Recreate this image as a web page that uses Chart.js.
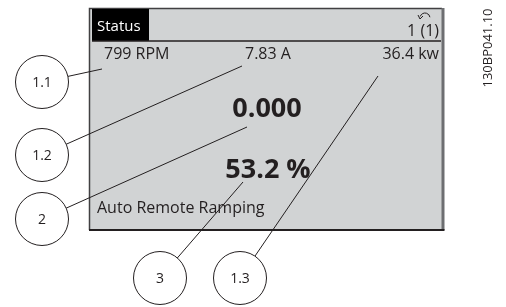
<!DOCTYPE html>
<html lang="en">
<head>
<meta charset="UTF-8">
<title>Status display</title>
<script src="https://cdn.jsdelivr.net/npm/chart.js@4.4.0/dist/chart.umd.min.js"></script>
<style>
    html, body { margin: 0; padding: 0; background: #fff; }
    #wrap { width: 506px; height: 307px; }
</style>
</head>
<body>
<div id="wrap"><canvas id="panel"></canvas></div>
<script>

    // callout bubbles and where their leader lines meet the display
    const calloutLabels = ['1.1', '1.2', '2', '3', '1.3'];
    const calloutX = [42, 42, 42, 160, 240];
    const calloutY = [82, 155, 219, 278, 278];
    const leaderX = [102, 242, 247, 243, 378];
    const leaderY = [69, 66, 127, 182, 76];

    // texts shown on the display
    const headerTitle = 'Status';
    const headerPage = '1 (1)';
    const readouts = ['799 RPM', '7.83 A', '36.4 kw'];
    const mainValue = '0.000';
    const secondValue = '53.2 %';
    const statusLine = 'Auto Remote Ramping';
    const drawingId = '130BP041.10';

    const ink = '#231f20';
    const font = '"Open Sans", sans-serif';

    // display panel, drawn behind the leader lines
    const panelPlugin = {
        id: 'panel',
        beforeDatasetsDraw(chart) {
            const ctx = chart.ctx;
            const x = chart.scales.x, y = chart.scales.y;
            const px = v => x.getPixelForValue(v);
            const py = v => y.getPixelForValue(v);

            ctx.save();
            ctx.fillStyle = '#d1d3d4';
            ctx.fillRect(px(89), py(8), px(443) - px(89), py(230) - py(8));

            // frame
            ctx.strokeStyle = '#414042';
            ctx.lineWidth = 1.5;
            ctx.beginPath();
            ctx.moveTo(px(89.5), py(230));
            ctx.lineTo(px(89.5), py(8.5));
            ctx.lineTo(px(442), py(8.5));
            ctx.stroke();
            ctx.strokeStyle = '#6d6e71';
            ctx.lineWidth = 3;
            ctx.beginPath();
            ctx.moveTo(px(443), py(8));
            ctx.lineTo(px(443), py(230));
            ctx.stroke();
            ctx.strokeStyle = ink;
            ctx.lineWidth = 2;
            ctx.beginPath();
            ctx.moveTo(px(89), py(230));
            ctx.lineTo(px(444.5), py(230));
            ctx.stroke();

            // header
            ctx.fillStyle = '#000';
            ctx.fillRect(px(92), py(9), px(149) - px(92), py(41) - py(9));
            ctx.strokeStyle = ink;
            ctx.lineWidth = 1.5;
            ctx.beginPath();
            ctx.moveTo(px(92), py(41));
            ctx.lineTo(px(441), py(41));
            ctx.stroke();

            ctx.textBaseline = 'alphabetic';
            ctx.font = '15px ' + font;
            ctx.fillStyle = '#fff';
            ctx.textAlign = 'left';
            ctx.fillText(headerTitle, px(97), py(31));

            ctx.font = '16px ' + font;
            ctx.fillStyle = ink;
            ctx.textAlign = 'right';
            ctx.fillText(headerPage, px(439), py(36));

            // small return arrow over the page number
            ctx.strokeStyle = ink;
            ctx.lineWidth = 1;
            ctx.beginPath();
            ctx.arc(px(425), py(18), 5, Math.PI * 1.1, Math.PI * 1.95);
            ctx.stroke();
            ctx.beginPath();
            ctx.moveTo(px(418), py(15));
            ctx.lineTo(px(420), py(19));
            ctx.lineTo(px(423), py(16));
            ctx.stroke();

            // readouts
            ctx.textAlign = 'left';
            ctx.fillText(readouts[0], px(104), py(59));
            ctx.fillText(readouts[1], px(245), py(59));
            ctx.textAlign = 'right';
            ctx.fillText(readouts[2], px(439), py(59));

            ctx.textAlign = 'center';
            ctx.font = 'bold 27px ' + font;
            ctx.fillText(mainValue, px(267), py(117));
            ctx.fillText(secondValue, px(268), py(178));

            ctx.textAlign = 'left';
            ctx.font = '16px ' + font;
            ctx.fillText(statusLine, px(97), py(213));

            // drawing number, rotated
            ctx.translate(px(488), py(48));
            ctx.rotate(-Math.PI / 2);
            ctx.textAlign = 'center';
            ctx.textBaseline = 'middle';
            ctx.font = '13px ' + font;
            ctx.fillText(drawingId, 0, 0);
            ctx.restore();
        },
        afterDatasetsDraw(chart) {
            const ctx = chart.ctx;
            const meta = chart.getDatasetMeta(0);
            ctx.save();
            ctx.fillStyle = ink;
            ctx.font = '14px ' + font;
            ctx.textAlign = 'center';
            ctx.textBaseline = 'middle';
            meta.data.forEach((pt, i) => {
                ctx.fillText(calloutLabels[i], pt.x, pt.y + 1);
            });
            ctx.restore();
        }
    };

    const datasets = [{
        type: 'scatter',
        data: calloutX.map((v, i) => ({ x: v, y: calloutY[i] })),
        pointRadius: 26.5,
        pointHoverRadius: 26.5,
        backgroundColor: '#fff',
        borderColor: ink,
        borderWidth: 1,
        clip: false
    }];

    calloutX.forEach((v, i) => {
        datasets.push({
            type: 'line',
            data: [{ x: v, y: calloutY[i] }, { x: leaderX[i], y: leaderY[i] }],
            borderColor: ink,
            borderWidth: 1,
            pointRadius: 0,
            fill: false,
            tension: 0,
            clip: false
        });
    });

    const chart = new Chart(document.getElementById('panel'), {
        type: 'scatter',
        data: { datasets: datasets },
        options: {
            responsive: true,
            maintainAspectRatio: false,
            animation: false,
            layout: { padding: 0, autoPadding: false },
            plugins: { legend: { display: false }, tooltip: { enabled: false } },
            events: [],
            scales: {
                x: { type: 'linear', min: 0, max: 506, display: false },
                y: { type: 'linear', min: 0, max: 307, reverse: true, display: false }
            }
        },
        plugins: [panelPlugin]
    });

</script>
</body>
</html>
